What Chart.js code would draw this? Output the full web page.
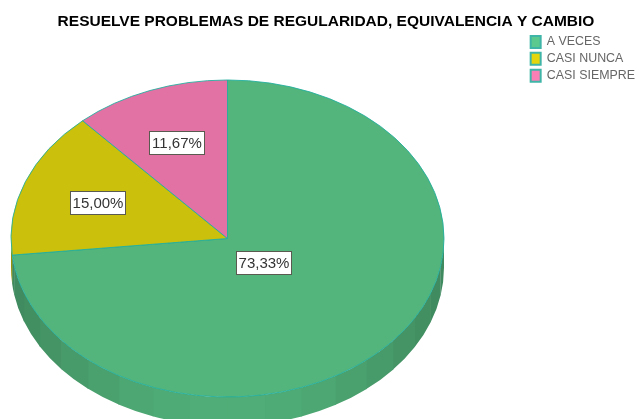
<!DOCTYPE html>
<html>
<head>
<meta charset="utf-8">
<style>
html,body{margin:0;padding:0;background:#fff;overflow:hidden}
#wrap{position:relative;width:635px;height:419px}
canvas{display:block}
</style>
<script src="https://cdn.jsdelivr.net/npm/chart.js@4"></script>
</head>
<body>
<div id="wrap"><canvas id="c" width="635" height="419"></canvas></div>
<script>
const chartTitle = 'RESUELVE PROBLEMAS DE REGULARIDAD, EQUIVALENCIA Y CAMBIO';
const categories = ['A VECES', 'CASI NUNCA', 'CASI SIEMPRE'];
const percents = [73.33, 15.00, 11.67];
const sliceColors = ['#53b57c', '#cbc00c', '#e272a4'];
const legendColors = ['#5cc98e', '#e3d60e', '#fb7fb5'];
const edgeColor = '#1fae9e';
const labelRadialFactors = [0.225, 0.64, 0.65];

const CX = 227.5, CY = 238.5, RX = 216.5, RY = 158.5, DEPTH = 29;

function shade(hex, f) {
  const n = parseInt(hex.slice(1), 16);
  const r = (n >> 16) & 255, g = (n >> 8) & 255, b = n & 255;
  return `rgb(${Math.round(r * f)},${Math.round(g * f)},${Math.round(b * f)})`;
}

const ellipsePie = {
  id: 'ellipsePie',
  beforeDatasetsDraw(chart) {
    const ctx = chart.ctx;
    const arcs = chart.getDatasetMeta(0).data;
    const step = Math.PI / 18;
    arcs.forEach((arc, i) => {
      const a0 = Math.max(arc.startAngle, 0);
      const a1 = Math.min(arc.endAngle, Math.PI);
      for (let a = a0; a < a1; a += step) {
        const b = Math.min(a + step, a1);
        const m = (a + b) / 2;
        const f = 0.76 + 0.2 * Math.pow(Math.sin(m), 2.2);
        ctx.beginPath();
        ctx.ellipse(CX, CY, RX, RY, 0, a, b + 0.004);
        ctx.ellipse(CX, CY + DEPTH, RX, RY, 0, b + 0.004, a, true);
        ctx.closePath();
        ctx.fillStyle = shade(sliceColors[i], f);
        ctx.fill();
      }
    });
    const first = arcs[0];
    ctx.save();
    ctx.translate(CX, CY);
    ctx.scale(1, RY / RX);
    ctx.translate(-first.x, -first.y);
  },
  afterDatasetsDraw(chart) {
    const ctx = chart.ctx;
    ctx.restore();
    const arcs = chart.getDatasetMeta(0).data;
    ctx.font = '15px "Liberation Sans", Arial, sans-serif';
    ctx.textAlign = 'center';
    ctx.textBaseline = 'middle';
    arcs.forEach((arc, i) => {
      const mid = (arc.startAngle + arc.endAngle) / 2;
      const x = CX + labelRadialFactors[i] * RX * Math.cos(mid);
      const y = CY + labelRadialFactors[i] * RY * Math.sin(mid);
      const text = percents[i].toFixed(2).replace('.', ',') + '%';
      const bx = Math.round(x - 28), by = Math.round(y - 11);
      ctx.fillStyle = '#fff';
      ctx.fillRect(bx, by, 56, 24);
      ctx.strokeStyle = '#5a5a50';
      ctx.lineWidth = 1;
      ctx.strokeRect(bx + 0.5, by + 0.5, 55, 23);
      ctx.fillStyle = '#333';
      ctx.fillText(text, bx + 28, by + 12.5);
    });
  }
};

new Chart(document.getElementById('c'), {
  type: 'pie',
  plugins: [ellipsePie],
  data: {
    labels: categories,
    datasets: [{
      data: percents,
      backgroundColor: sliceColors,
      borderColor: edgeColor,
      borderWidth: 1,
      clip: false
    }]
  },
  options: {
    responsive: false,
    animation: false,
    radius: RX,
    layout: { padding: { left: 7, top: 0, right: -10, bottom: 0 } },
    plugins: {
      tooltip: { enabled: false },
      title: {
        display: true,
        text: chartTitle,
        color: '#000',
        font: { family: '"Liberation Sans", Arial, sans-serif', size: 15.5, weight: 'bold' },
        padding: { top: 12, bottom: 6 }
      },
      legend: {
        position: 'right',
        align: 'start',
        title: {
          display: true,
          text: ' ',
          font: { size: 1 },
          padding: { top: 30, bottom: 0 }
        },
        labels: {
          boxWidth: 10,
          boxHeight: 12,
          padding: 4.5,
          color: '#444',
          font: { family: '"Liberation Sans", Arial, sans-serif', size: 12.4 },
          generateLabels(chart) {
            return categories.map((t, i) => ({
              text: t,
              fillStyle: legendColors[i],
              strokeStyle: '#3fb5a8',
              lineWidth: 2,
              index: i
            }));
          }
        }
      }
    }
  }
});
</script>
</body>
</html>
